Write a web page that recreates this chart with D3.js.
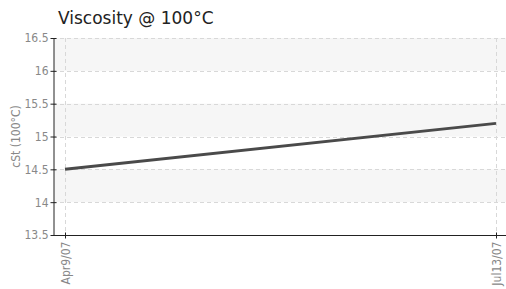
<!DOCTYPE html>
<html>
<head>
<meta charset="utf-8">
<script src="https://cdn.jsdelivr.net/npm/d3@7"></script>
<style>
body { margin: 0; background: #fff; }
</style>
</head>
<body>
<svg id="chart" width="506" height="289"></svg>
<script>
// chart data
var dates = ["2007-04-09", "2007-07-13"];
var dateLabels = ["Apr9/07", "Jul13/07"];
var viscosity = [14.5, 15.2];
var yTicks = [13.5, 14, 14.5, 15, 15.5, 16, 16.5];

var svg = d3.select("#chart");
var parse = d3.timeParse("%Y-%m-%d");
// plot edges (don't use "top", it clashes with window.top)
var plotLeft = 53, plotRight = 506, plotTop = 38, plotBottom = 235;
var tickFont = "'DejaVu Sans Condensed', 'Liberation Sans Narrow', sans-serif";

var x = d3.scaleTime()
    .domain([parse(dates[0]), parse(dates[1])])
    .range([65, 496]);
var y = d3.scaleLinear().domain([13.5, 16.5]).range([plotBottom, plotTop]);

// alternating bands (shade 14-14.5, 15-15.5, 16-16.5)
for (var i = 0; i < yTicks.length - 1; i++) {
    if (i % 2 == 0) continue;
    svg.append("rect")
    .attr("x", plotLeft + 1)
    .attr("y", y(yTicks[i + 1]))
    .attr("width", plotRight - plotLeft)
    .attr("height", y(yTicks[i]) - y(yTicks[i + 1]))
    .attr("fill", "#f6f6f6");
}

// horizontal grid
svg.selectAll(".hgrid")
    .data(yTicks.slice(1))
    .enter()
    .append("line")
    .attr("x1", plotLeft).attr("x2", plotRight)
    .attr("y1", function(d) { return Math.round(y(d)) + 0.5; })
    .attr("y2", function(d) { return Math.round(y(d)) + 0.5; })
    .attr("stroke", "#d8d8d8")
    .attr("stroke-dasharray", "4,3");

// vertical grid
svg.selectAll(".vgrid")
    .data(dates)
    .enter()
    .append("line")
    .attr("x1", function(d) { return Math.round(x(parse(d))) + 0.5; })
    .attr("x2", function(d) { return Math.round(x(parse(d))) + 0.5; })
    .attr("y1", plotTop).attr("y2", plotBottom)
    .attr("stroke", "#d8d8d8")
    .attr("stroke-dasharray", "4,3");

// the line
var line = d3.line()
    .x(function(d, i) { return x(parse(dates[i])); })
    .y(function(d) { return y(d); });
svg.append("path")
    .datum(viscosity)
    .attr("d", line)
    .attr("fill", "none")
    .attr("stroke", "#4a4a4a")
    .attr("stroke-width", 3);

// y axis
var yAxis = svg.append("g")
    .attr("transform", "translate(" + (plotLeft + 0.5) + ",0)")
    .call(d3.axisLeft(y).tickValues(yTicks).tickSize(3).tickSizeOuter(0).tickFormat(d3.format("")));
yAxis.select(".domain").attr("stroke", "#222");
yAxis.selectAll(".tick line").attr("stroke", "#222").attr("x2", 3).attr("x1", -3);
yAxis.selectAll("text")
    .attr("fill", "#888")
    .attr("x", -5)
    .style("font-family", tickFont)
    .style("font-size", "12px");

// x axis
var xAxis = svg.append("g")
    .attr("transform", "translate(0," + (plotBottom + 0.5) + ")")
    .call(d3.axisBottom(x).tickValues(dates.map(parse)).tickSize(3).tickSizeOuter(0)
        .tickFormat(function(d, i) { return dateLabels[i]; }));
xAxis.select(".domain").attr("d", "M" + plotLeft + ",0H" + plotRight).attr("stroke", "#222");
xAxis.selectAll(".tick line").attr("stroke", "#222").attr("y1", -3).attr("y2", 3);
xAxis.selectAll("text")
    .attr("fill", "#888")
    .attr("transform", "rotate(-90)")
    .attr("text-anchor", "end")
    .attr("x", -6)
    .attr("y", 0)
    .attr("dy", "0.35em")
    .style("font-family", tickFont)
    .style("font-size", "12px");

// y label
svg.append("text")
    .attr("transform", "translate(20," + ((plotTop + plotBottom) / 2) + ") rotate(-90)")
    .attr("text-anchor", "middle")
    .attr("fill", "#888")
    .style("font-family", tickFont)
    .style("font-size", "12px")
    .text("cSt (100°C)");

// title
svg.append("text")
    .attr("x", 58)
    .attr("y", 24)
    .attr("fill", "#222")
    .style("font-family", "'DejaVu Sans', Verdana, sans-serif")
    .style("font-size", "17px")
    .text("Viscosity @ 100°C");
</script>
</body>
</html>
